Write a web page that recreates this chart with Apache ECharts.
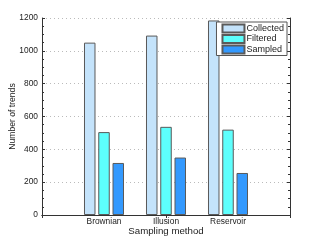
<!DOCTYPE html>
<html>
<head>
<meta charset="utf-8">
<script src="https://cdn.jsdelivr.net/npm/echarts@6/dist/echarts.min.js"></script>
<style>
html,body{margin:0;padding:0;background:#fff;}
#c{width:321px;height:242px;}
</style>
</head>
<body>
<div id="c"></div>
<script>
const categories = ['', 'Brownian', 'Illusion', 'Reservoir', ''];
const collected = ['-', 1050, 1093, 1185, '-'];
const filtered = ['-', 505, 537, 520, '-'];
const sampled = ['-', 317, 350, 256, '-'];
const yTicks = [0, 1200, 200];

const FONT = '"Liberation Sans", Arial, sans-serif';
const chart = echarts.init(document.getElementById('c'), null, {renderer: 'canvas'});

const axisLine = {show: true, lineStyle: {color: '#333', width: 1}};
const tick = {show: true, inside: true, length: 3, lineStyle: {color: '#333'}};
const minor = {show: true, splitNumber: 4, length: 2, lineStyle: {color: '#333'}};

function barSeries(name, data, color) {
  return {
    name: name, type: 'bar', data: data, xAxisIndex: 0, yAxisIndex: 0,
    barWidth: 11.5, barGap: '24%',
    itemStyle: {color: color, borderColor: '#5a5a5a', borderWidth: 1},
    emphasis: {disabled: true}, animation: false
  };
}

chart.setOption({
  animation: false,
  grid: {left: 42, right: 31, top: 18, bottom: 27, containLabel: false, outerBoundsMode: 'none'},
  legend: {
    orient: 'vertical', right: 34, top: 22,
    icon: 'rect', itemWidth: 22, itemHeight: 8, itemGap: 0.5,
    padding: [1.5, 3, 1, 5],
    backgroundColor: '#fff', borderColor: '#555', borderWidth: 1,
    textStyle: {fontFamily: FONT, fontSize: 9, color: '#222', lineHeight: 10, padding: [0, 0, 0, -3]},
    data: ['Collected', 'Filtered', 'Sampled']
  },
  xAxis: [{
    type: 'category', data: categories, boundaryGap: false, position: 'bottom',
    name: 'Sampling method', nameLocation: 'middle', nameGap: 11, nameMoveOverlap: false,
    nameTextStyle: {fontFamily: FONT, fontSize: 9.7, color: '#222'},
    axisLine: axisLine, axisTick: tick,
    axisLabel: {fontFamily: FONT, fontSize: 8.4, color: '#222', margin: 3, interval: 0},
    splitLine: {show: false}
  }, {
    type: 'category', data: categories, boundaryGap: false, position: 'top',
    axisLine: axisLine, axisTick: tick, axisLabel: {show: false}, splitLine: {show: false}
  }],
  yAxis: [{
    type: 'value', min: yTicks[0], max: yTicks[1], interval: yTicks[2], position: 'left',
    name: 'Number of trends', nameLocation: 'middle', nameGap: 25, nameMoveOverlap: false,
    nameTextStyle: {fontFamily: FONT, fontSize: 8.6, color: '#222'},
    axisLine: axisLine, axisTick: tick, minorTick: minor,
    axisLabel: {fontFamily: FONT, fontSize: 8.4, color: '#222', margin: 4, formatter: function (v) { return String(v); }},
    splitLine: {show: true, lineStyle: {color: '#bbb', type: [1, 3], width: 1}}
  }, {
    type: 'value', min: yTicks[0], max: yTicks[1], interval: yTicks[2], position: 'right',
    axisLine: axisLine, axisTick: tick, minorTick: minor,
    axisLabel: {show: false}, splitLine: {show: false}
  }],
  series: [
    barSeries('Collected', collected, '#c4e3fb'),
    barSeries('Filtered', filtered, '#5dfffd'),
    barSeries('Sampled', sampled, '#3399fe')
  ]
});
</script>
</body>
</html>
